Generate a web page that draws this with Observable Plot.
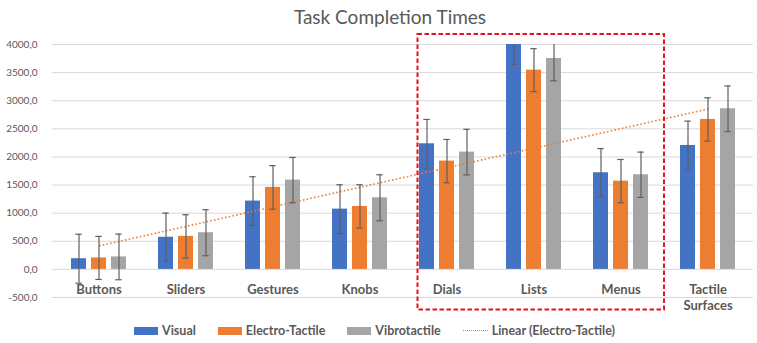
<!DOCTYPE html>
<html>
<head>
<meta charset="utf-8">
<script src="https://cdn.jsdelivr.net/npm/d3@7"></script>
<script src="https://cdn.jsdelivr.net/npm/@observablehq/plot@0.6"></script>
<style>
  html, body { margin: 0; padding: 0; background: #fff; }
  body { width: 757px; font-family: Lato, "Open Sans", sans-serif; color: #595959; }
  #title { height: 30px; line-height: 34px; font-size: 19px; text-align: center; padding-left: 23px; box-sizing: border-box; width: 757px; }
  #chart svg { display: block; overflow: visible; }
  #legend { display: flex; justify-content: flex-start; align-items: center; height: 29px; padding-top: 4px; box-sizing: border-box; padding-left: 134px; font-weight: bold; font-size: 12.5px; }
  #legend .item { display: flex; align-items: center; margin-right: 22px; }
  #legend .sw { width: 24px; height: 8px; margin-right: 4px; }
  #legend .ln { width: 25px; height: 0; border-top: 1.5px dotted #ED7D31; margin-right: 4px; }
</style>
</head>
<body>
<div id="title">Task Completion Times</div>
<div id="chart"></div>
<div id="legend"></div>
<script>
// ---- data ----
const categories = ["Buttons", "Sliders", "Gestures", "Knobs", "Dials", "Lists", "Menus", "Tactile Surfaces"];
const visual    = [190, 571, 1215, 1072, 2234, 4080, 1719, 2204];
const visualErr = [435, 430, 433, 433, 433, 433, 430, 433];
const electro    = [204, 587, 1458, 1120, 1926, 3544, 1570, 2667];
const electroErr = [383, 385, 388, 385, 385, 382, 385, 385];
const vibro    = [222, 652, 1588, 1274, 2086, 3751, 1683, 2857];
const vibroErr = [406, 409, 403, 409, 405, 396, 403, 406];
const seriesNames = ["Visual", "Electro-Tactile", "Vibrotactile"];
const trendName = "Linear (Electro-Tactile)";
const yTicks = [-500, 0, 500, 1000, 1500, 2000, 2500, 3000, 3500, 4000];
const highlighted = ["Dials", "Menus"];

const colors = ["#4472C4", "#ED7D31", "#A5A5A5"];

const data = categories.map((c, i) => ({
  category: c,
  v: [visual[i], electro[i], vibro[i]],
  e: [visualErr[i], electroErr[i], vibroErr[i]]
}));

// linear trendline of Electro-Tactile (least squares vs. category index)
const xs = electro.map((_, i) => i + 1);
const mx = d3.mean(xs), my = d3.mean(electro);
const slope = d3.sum(xs, (x, i) => (x - mx) * (electro[i] - my)) / d3.sum(xs, x => (x - mx) ** 2);
const intercept = my - slope * mx;
const trend = categories.map((c, i) => ({category: c, y: intercept + slope * (i + 1)}));

const W = 757, H = 284;
const offsets = [-20, 0, 20];
const barInset = 36;
const capInset = 40.3;

const marks = [
  Plot.gridY(yTicks, {stroke: "#D9D9D9", strokeOpacity: 1, strokeWidth: 1}),
  Plot.axisY(yTicks, {tickSize: 0, tickPadding: 15, fontSize: 10, fill: "#595959",
    tickFormat: d => d.toFixed(1).replace(".", ","), label: null})
];

seriesNames.forEach((name, s) => {
  marks.push(Plot.barY(data, {x: "category", y: d => d.v[s], fill: colors[s],
    insetLeft: barInset, insetRight: barInset, dx: offsets[s], clip: true}));
});
marks.push(Plot.line(trend, {x: "category", y: "y", stroke: "#ED7D31", strokeWidth: 1.6,
  strokeDasharray: "1.6,2.2", strokeLinecap: "butt"}));
seriesNames.forEach((name, s) => {
  marks.push(Plot.ruleX(data, {x: "category", y1: d => d.v[s] - d.e[s], y2: d => d.v[s] + d.e[s],
    dx: offsets[s], stroke: "#5F5F5F", strokeWidth: 1.2, clip: true}));
  marks.push(Plot.tickY(data, {x: "category", y: d => d.v[s] + d.e[s], dx: offsets[s],
    insetLeft: capInset, insetRight: capInset, stroke: "#5F5F5F", strokeWidth: 1.2, clip: true}));
  marks.push(Plot.tickY(data, {x: "category", y: d => d.v[s] - d.e[s], dx: offsets[s],
    insetLeft: capInset, insetRight: capInset, stroke: "#5F5F5F", strokeWidth: 1.2, clip: true}));
});
// category labels next to the 0 line
marks.push(Plot.text(categories, {x: d => d, y: () => 0, text: d => d.replace(" ", "\n"),
  dy: 13, lineAnchor: "top", lineHeight: 1.25, fontWeight: "bold", fontSize: 13, fill: "#595959"}));
// red dashed highlight box around Dials..Menus
marks.push((index, scales) => {
  const x = scales.x, y = scales.y, bw = x.bandwidth();
  const left = x(highlighted[0]) + bw / 6;
  const right = x(highlighted[1]) + bw;
  const top = y(4000) - 10;
  const bottom = y(-500) + 12.5;
  const r = document.createElementNS("http://www.w3.org/2000/svg", "rect");
  r.setAttribute("x", left); r.setAttribute("y", top);
  r.setAttribute("width", right - left); r.setAttribute("height", bottom - top);
  r.setAttribute("fill", "none"); r.setAttribute("stroke", "#E8101A");
  r.setAttribute("stroke-width", 2); r.setAttribute("stroke-dasharray", "4.5,2.5");
  return r;
});

const plot = Plot.plot({
  width: W, height: H,
  marginTop: 14, marginBottom: 17, marginLeft: 52, marginRight: 4,
  style: {fontFamily: "Lato, 'Open Sans', sans-serif", color: "#595959", background: "transparent"},
  x: {type: "band", domain: categories, paddingInner: 0, paddingOuter: 0, axis: null},
  y: {domain: [-500, 4000], axis: null},
  marks
});
document.getElementById("chart").appendChild(plot);

// legend
const legend = document.getElementById("legend");
seriesNames.forEach((name, s) => {
  const it = document.createElement("div"); it.className = "item";
  it.innerHTML = `<span class="sw" style="background:${colors[s]}"></span><span>${name}</span>`;
  legend.appendChild(it);
});
const tl = document.createElement("div"); tl.className = "item";
tl.innerHTML = `<span class="ln"></span><span>${trendName}</span>`;
legend.appendChild(tl);
</script>
</body>
</html>
